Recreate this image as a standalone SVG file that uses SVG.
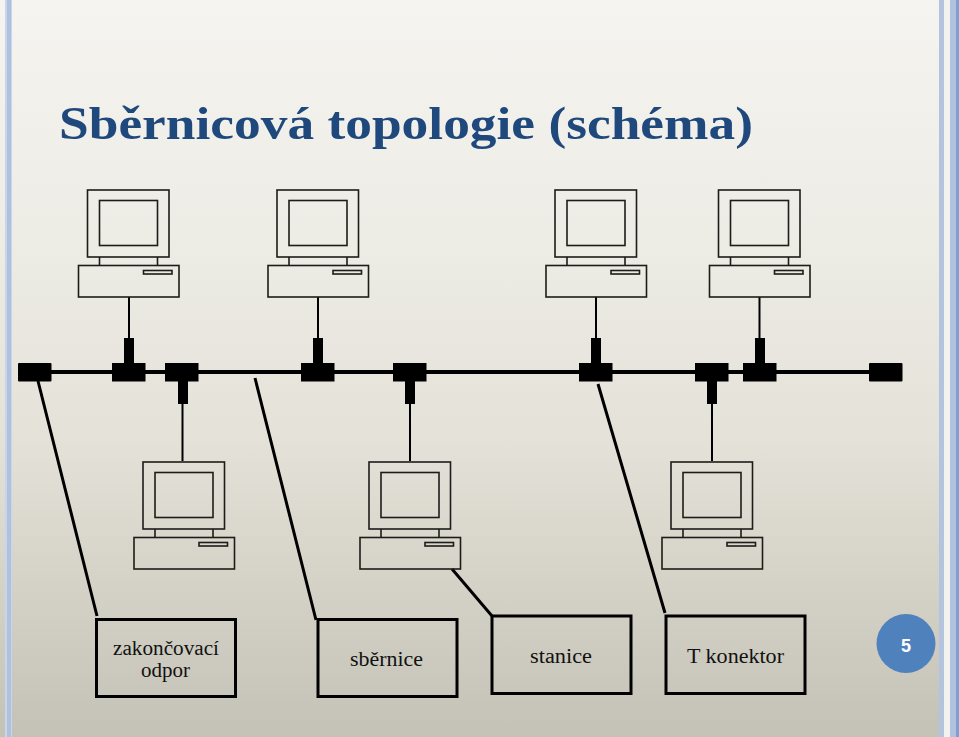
<svg xmlns="http://www.w3.org/2000/svg" width="959" height="737" viewBox="0 0 959 737">
<style>
.o{fill:none;stroke:#1c1c1a;stroke-width:1.6}
.c{fill:none;stroke:#000;stroke-width:2}
.b{fill:#000}
.l{fill:none;stroke:#000;stroke-width:3}
.box{fill:none;stroke:#000;stroke-width:3}
.t{font-family:"Liberation Serif",serif;font-size:20.500px;fill:#111;text-anchor:middle}
</style>
<defs>
<linearGradient id="bg" x1="0" y1="0" x2="0" y2="1"><stop offset="0" stop-color="#f5f4f0"/><stop offset="0.35" stop-color="#ecebe4"/><stop offset="0.6" stop-color="#e4e1d8"/><stop offset="1" stop-color="#c4c2b6"/></linearGradient>
<g id="pc"><rect class="o" x="87.5" y="190" width="81.500" height="67"/><rect class="o" x="99.500" y="200.500" width="58" height="45"/><path class="o" d="M99.500 257V265.500M157.500 257V265.500"/><rect class="o" x="78.500" y="265.500" width="100.500" height="31.500"/><rect class="o" x="143.500" y="270.500" width="28.500" height="3.500"/></g>
</defs>
<rect width="959" height="737" fill="url(#bg)"/>
<g id="frame"><rect x="5" y="0" width="7" height="737" fill="#c9d6ea"/><rect x="7" y="0" width="4" height="737" fill="#aec2e0"/><rect x="939" y="0" width="5" height="737" fill="#b4c4de"/><rect x="944" y="0" width="6" height="737" fill="#f2f2f0"/><rect x="950" y="0" width="8" height="737" fill="#b0c2de"/><rect x="956" y="0" width="3" height="737" fill="#7f9fd0"/></g>
<text id="title" x="59" y="139" font-family="'Liberation Serif',serif" font-weight="700" font-size="47" fill="#1f497d" textLength="694" lengthAdjust="spacingAndGlyphs">Sběrnicová topologie (schéma)</text>
<g id="connectors">
<path d="M51 372H869" stroke="#000" stroke-width="4" fill="none"/>
<path class="c" d="M129 297V338M318 297V338M596 297V338M759.500 297V338M182.500 404V461M410 404V461M712 404V461"/>
<path class="l" d="M38 381L97 616M255 378L316 620M452 569L492 616M598 384L665 613"/>
</g>
<g id="pc1"><use href="#pc"/></g>
<g id="pc2"><use href="#pc" x="189.500"/></g>
<g id="pc3"><use href="#pc" x="467.500"/></g>
<g id="pc4"><use href="#pc" x="631"/></g>
<g id="pc5"><use href="#pc" x="55.500" y="272"/></g>
<g id="pc6"><use href="#pc" x="281.500" y="272"/></g>
<g id="pc7"><use href="#pc" x="583.500" y="272"/></g>
<g id="terminator-left"><rect class="b" x="18" y="363" width="33.500" height="18.500" rx="1"/></g>
<g id="terminator-right"><rect class="b" x="869" y="363" width="33.500" height="18.500" rx="1"/></g>
<g id="t1"><path class="b" d="M112 363H124V338H134V363H145.500V381.500H112Z"/></g>
<g id="t2"><path class="b" d="M301 363H313V338H323V363H334.500V381.500H301Z"/></g>
<g id="t3"><path class="b" d="M579 363H591V338H601V363H612.500V381.500H579Z"/></g>
<g id="t4"><path class="b" d="M743 363H755V338H765V363H776.500V381.500H743Z"/></g>
<g id="t5"><path class="b" d="M165 363H198.500V381.500H188V404H178V381.500H165Z"/></g>
<g id="t6"><path class="b" d="M393 363H426.500V381.500H415V404H405V381.500H393Z"/></g>
<g id="t7"><path class="b" d="M695 363H728.500V381.500H717V404H707V381.500H695Z"/></g>
<g id="label1"><rect class="box" x="96.500" y="619.500" width="139" height="77"/><text class="t" x="166" y="655" textLength="106" lengthAdjust="spacingAndGlyphs">zakončovací</text><text class="t" x="165.500" y="677" textLength="49" lengthAdjust="spacingAndGlyphs">odpor</text></g>
<g id="label2"><rect class="box" x="318" y="619.500" width="139" height="77"/><text class="t" x="386.500" y="666" textLength="73" lengthAdjust="spacingAndGlyphs">sběrnice</text></g>
<g id="label3"><rect class="box" x="492" y="616" width="139" height="77.500"/><text class="t" x="561" y="663" textLength="62" lengthAdjust="spacingAndGlyphs">stanice</text></g>
<g id="label4"><rect class="box" x="666" y="616" width="139" height="77.500"/><text class="t" x="735.500" y="663" textLength="97" lengthAdjust="spacingAndGlyphs">T konektor</text></g>
<g id="page"><circle cx="906" cy="643.500" r="29.500" fill="#4f81bd"/><text x="906" y="651.500" font-family="'Liberation Sans',sans-serif" font-weight="700" font-size="18" fill="#fff" text-anchor="middle">5</text></g>
</svg>
